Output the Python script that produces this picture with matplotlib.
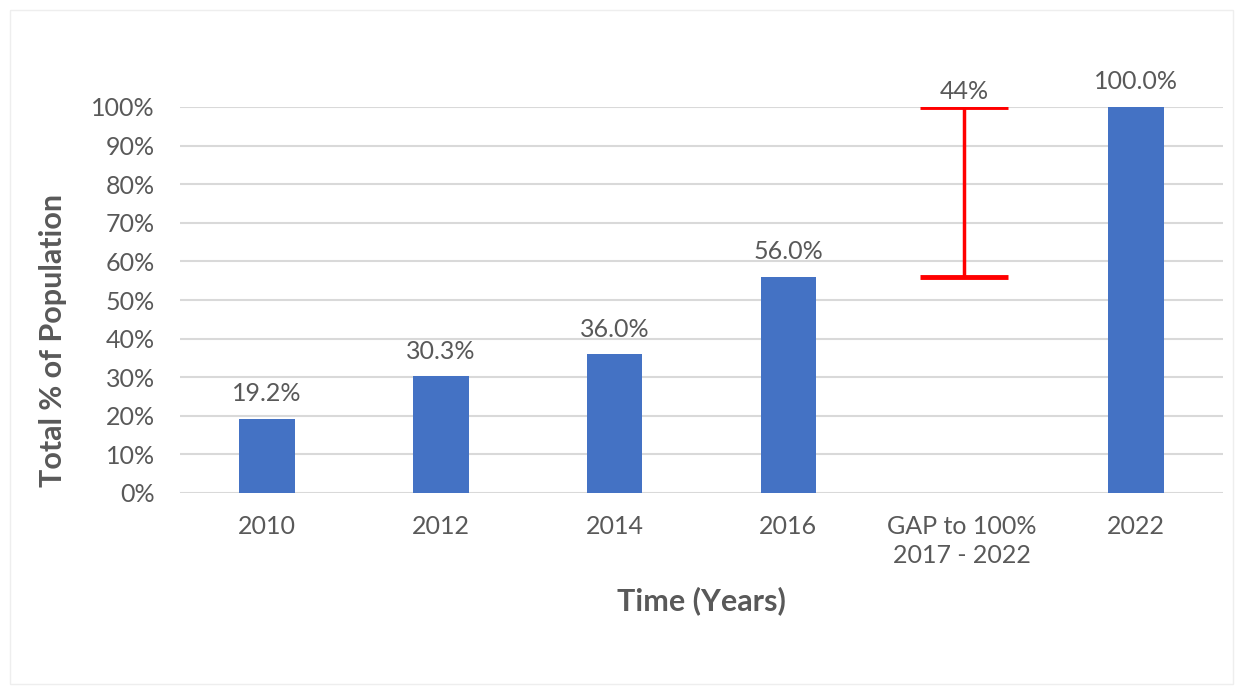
import matplotlib.pyplot as plt
from matplotlib.patches import Rectangle
import numpy as np

# data
categories = ['2010', '2012', '2014', '2016', 'GAP to 100%\n2017 - 2022', '2022']
values = [19.2, 30.3, 36.0, 56.0, np.nan, 100.0]
bar_labels = ['19.2%', '30.3%', '36.0%', '56.0%', '', '100.0%']
gap_low = 56.0
gap_high = 100.0
gap_label = '44%'
y_ticks = list(range(0, 101, 10))

plt.rcParams['font.family'] = ['Lato', 'DejaVu Sans']
txt = '#595959'

fig = plt.figure(figsize=(12.43, 6.92), dpi=100)
ax = fig.add_axes([180 / 1243, 1 - 493 / 692, 1043 / 1243, 386 / 692])

x = np.arange(len(categories))
ax.bar(x, values, width=0.32, color='#4472C4', zorder=3)

for xi, v, lab in zip(x, values, bar_labels):
    if lab:
        ax.text(xi, v + 3.5, lab, ha='center', va='bottom', fontsize=18, color=txt)

# gap marker
gx = categories.index('GAP to 100%\n2017 - 2022')
ax.errorbar([gx + 0.01], [(gap_low + gap_high) / 2], yerr=[[(gap_high - gap_low) / 2]],
            fmt='none', ecolor='#FF0000', elinewidth=2.5, capsize=32, capthick=3.5, zorder=4)
ax.text(gx + 0.01, gap_high + 1.0, gap_label, ha='center', va='bottom', fontsize=18, color=txt)

ax.set_xlim(-0.5, len(categories) - 0.5)
ax.set_ylim(0, 100)
ax.set_yticks(y_ticks)
ax.set_yticklabels([f'{t}%' for t in y_ticks])
ax.set_xticks(x)
ax.set_xticklabels(categories, linespacing=1.3)
ax.tick_params(axis='both', length=0, labelsize=18, labelcolor=txt)
ax.tick_params(axis='x', pad=16)
ax.tick_params(axis='y', pad=18)
ax.grid(axis='y', color='#D9D9D9', linewidth=1.5, zorder=0)
ax.set_axisbelow(True)
for s in ax.spines.values():
    s.set_visible(False)

ax.set_ylabel('Total % of Population', fontsize=22, fontweight='bold', color=txt)
ax.yaxis.set_label_coords(-0.108, 0.394)
ax.set_xlabel('Time (Years)', fontsize=22, fontweight='bold', color=txt, labelpad=14)

# faint outer frame
fig.patches.append(Rectangle((10 / 1243, 8 / 692), 1 - 20 / 1243, 1 - 18 / 692,
                             transform=fig.transFigure, fill=False,
                             edgecolor='#EEEEEE', linewidth=1))

fig.savefig('out.png', dpi=100)
